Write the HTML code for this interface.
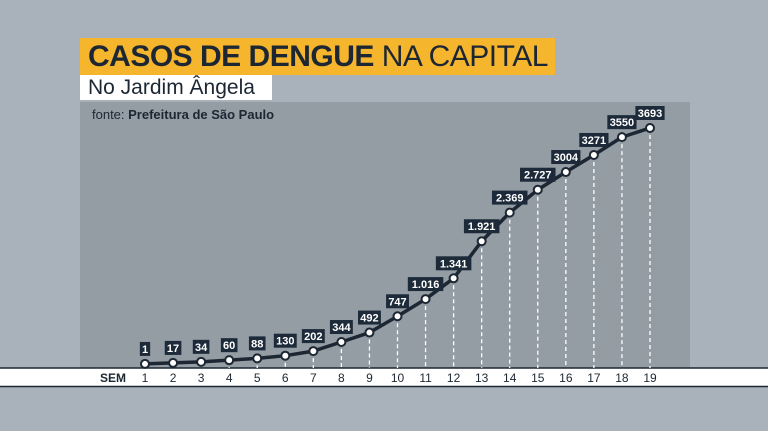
<!DOCTYPE html>
<html><head><meta charset="utf-8"><style>
body{margin:0;width:768px;height:431px;overflow:hidden;background:#a9b2bb;font-family:"Liberation Sans",sans-serif;position:relative}
.t{position:absolute;left:80px;top:38px;width:475px;height:37px;background:#f5b52c;color:#1c2733;font-size:30px;line-height:37px;padding-left:8px;box-sizing:border-box;white-space:nowrap;letter-spacing:-0.5px}
.s{position:absolute;left:80px;top:75px;width:192px;height:25px;background:#fff;color:#1c2733;font-size:21px;line-height:25px;padding-left:8px;box-sizing:border-box}
.f{position:absolute;left:92px;top:107px;font-size:13px;color:#1c2733}
</style></head><body>
<div class="t"><b>CASOS DE DENGUE</b> NA CAPITAL</div>
<div class="s">No Jardim Ângela</div>
<svg width="768" height="431" style="position:absolute;left:0;top:0">
<rect x="80" y="102" width="610" height="266" fill="#949ca4"/>
<rect x="0" y="368" width="768" height="18" fill="#fff"/>
<line x1="0" y1="368" x2="768" y2="368" stroke="#1c2733" stroke-width="1.5"/>
<line x1="0" y1="386.5" x2="768" y2="386.5" stroke="#1c2733" stroke-width="1.5"/>
<text x="100" y="382" font-size="12" font-weight="bold" fill="#1c2733">SEM</text>
<g id="g"></g>
</svg>
<div class="f">fonte: <b>Prefeitura de São Paulo</b></div>
<script>
const weeks=[1,2,3,4,5,6,7,8,9,10,11,12,13,14,15,16,17,18,19];
const values=[1,17,34,60,88,130,202,344,492,747,1016,1341,1921,2369,2727,3004,3271,3550,3693];
const labels=["1","17","34","60","88","130","202","344","492","747","1.016","1.341","1.921","2.369","2.727","3004","3271","3550","3693"];
const X=w=>145+(w-1)*(650-145)/18;
const Y=v=>364-v*(364-128)/3693;
const NS="http://www.w3.org/2000/svg",g=document.getElementById('g');
function mk(t,a){const e=document.createElementNS(NS,t);for(const k in a)e.setAttribute(k,a[k]);g.appendChild(e);return e;}
weeks.forEach((w,i)=>{
 const d=mk('line',{x1:X(w),y1:Y(values[i]),x2:X(w),y2:368,stroke:'#fff','stroke-width':1.3,'stroke-dasharray':'4,3'});
 
 
 const t=mk('text',{x:X(w),y:382,'font-size':12,fill:'#1c2733','text-anchor':'middle'});t.textContent=w;
 
 
});
const p=mk('polyline',{points:weeks.map((w,i)=>X(w)+','+Y(values[i])).join(' '),fill:'none',stroke:'#1c2733','stroke-width':3.5,'stroke-linejoin':'round'});


weeks.forEach((w,i)=>{
 const x=X(w),y=Y(values[i]);
 const c=mk('circle',{cx:x,cy:y,r:4,fill:'#fff',stroke:'#1c2733','stroke-width':2});
 
 
 const s=labels[i],wd=s.length*6.3+4;
 const r=mk('rect',{x:x-wd/2,y:y-22,width:wd,height:14,fill:'#1c2a3a'});
 
 
 const t=mk('text',{x:x,y:y-11,'font-size':11,'font-weight':'bold',fill:'#fff','text-anchor':'middle'});t.textContent=s;
 
 
});
</script>
</body></html>
